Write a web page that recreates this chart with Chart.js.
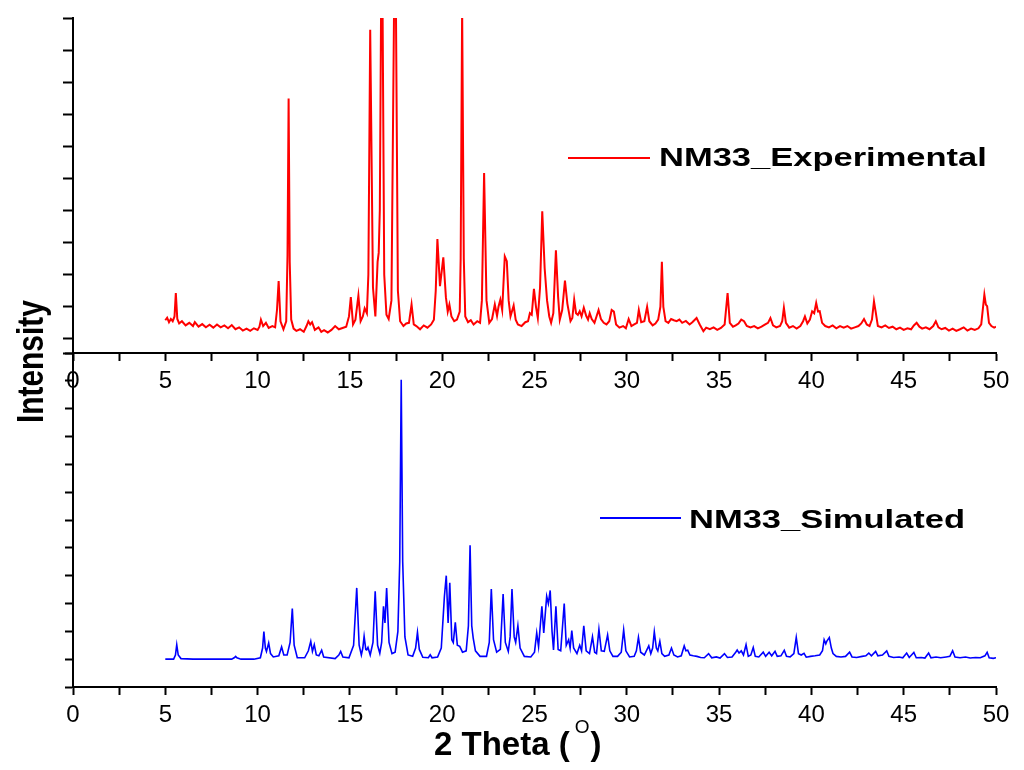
<!DOCTYPE html>
<html>
<head>
<meta charset="utf-8">
<title>NM33 PXRD</title>
<script src="https://cdn.jsdelivr.net/npm/chart.js@4.4.1/dist/chart.umd.min.js"></script>
<style>
  html, body { margin: 0; padding: 0; background: #fff; }
  #wrap { position: relative; width: 1024px; height: 770px; }
  #wrap canvas { position: absolute; left: 0; top: 0; }
</style>
</head>
<body>
<div id="wrap">
  <canvas id="expChart" width="1024" height="770"></canvas>
  <canvas id="simChart" width="1024" height="770"></canvas>
</div>
<script>
/* ---------- data: [2theta, intensity (arb. units)] ---------- */
const seriesNames = ['NM33_Experimental', 'NM33_Simulated'];
const thetaLabels = [0, 5, 10, 15, 20, 25, 30, 35, 40, 45, 50];

const experimental = [
  [5.00,0.58],[5.10,0.66],[5.20,0.52],[5.30,0.62],[5.40,0.55],[5.50,0.70],[5.57,1.43],[5.65,0.62],
  [5.75,0.48],[5.90,0.55],[6.10,0.42],[6.30,0.50],[6.50,0.40],[6.60,0.52],[6.80,0.38],[7.00,0.46],
  [7.20,0.36],[7.40,0.44],[7.60,0.35],[7.80,0.45],[8.00,0.36],[8.20,0.42],[8.40,0.33],[8.60,0.43],
  [8.80,0.30],[9.00,0.36],[9.20,0.26],[9.40,0.32],[9.60,0.25],[9.80,0.33],[10.00,0.28],[10.10,0.38],
  [10.18,0.60],[10.30,0.40],[10.45,0.50],[10.60,0.34],[10.80,0.40],[10.95,0.36],[11.05,0.90],[11.14,1.80],
  [11.24,0.55],[11.40,0.30],[11.55,0.55],[11.62,2.60],[11.68,7.49],[11.74,2.40],[11.82,0.60],[11.95,0.32],
  [12.10,0.25],[12.30,0.30],[12.50,0.22],[12.65,0.40],[12.75,0.55],[12.85,0.45],[12.95,0.52],[13.10,0.28],
  [13.30,0.36],[13.45,0.22],[13.60,0.27],[13.80,0.20],[14.00,0.28],[14.20,0.40],[14.40,0.30],[14.60,0.34],
  [14.80,0.38],[14.95,0.70],[15.05,1.30],[15.17,0.45],[15.30,0.60],[15.46,1.35],[15.58,0.55],[15.70,0.70],
  [15.80,0.95],[15.92,0.80],[16.00,2.00],[16.10,9.63],[16.25,1.60],[16.38,0.70],[16.50,2.40],[16.56,2.68],
  [16.62,4.00],[16.73,14.0],[16.86,2.00],[16.98,0.75],[17.10,0.62],[17.25,1.20],[17.45,14.0],[17.60,1.50],
  [17.72,0.55],[17.90,0.40],[18.05,0.48],[18.20,0.50],[18.34,1.07],[18.46,0.45],[18.60,0.40],[18.80,0.30],
  [19.00,0.42],[19.20,0.35],[19.40,0.45],[19.55,0.60],[19.65,1.50],[19.74,3.11],[19.88,1.64],[20.06,2.54],
  [20.20,1.30],[20.30,0.85],[20.39,1.07],[20.50,0.70],[20.65,0.55],[20.80,0.60],[20.95,0.85],[21.00,2.50],
  [21.08,10.3],[21.17,2.50],[21.25,0.70],[21.40,0.52],[21.55,0.58],[21.70,0.45],[21.90,0.55],[22.05,0.50],
  [22.15,1.20],[22.27,5.17],[22.40,1.20],[22.55,0.50],[22.70,0.62],[22.85,1.07],[22.97,0.72],[23.05,1.00],
  [23.15,1.22],[23.25,0.90],[23.39,2.57],[23.50,2.42],[23.60,1.20],[23.70,0.70],[23.87,1.04],[23.98,0.60],
  [24.10,0.45],[24.30,0.40],[24.50,0.52],[24.65,0.55],[24.75,0.80],[24.85,0.75],[24.97,1.56],[25.08,1.00],
  [25.18,0.65],[25.30,1.60],[25.42,3.98],[25.55,2.20],[25.68,1.20],[25.80,0.70],[25.90,0.50],[26.02,0.80],
  [26.16,2.76],[26.28,1.30],[26.37,0.60],[26.50,0.90],[26.65,1.82],[26.78,1.10],[26.95,0.55],[27.05,0.65],
  [27.15,1.22],[27.25,0.80],[27.35,0.75],[27.45,0.86],[27.55,0.70],[27.67,0.97],[27.80,0.72],[27.90,0.60],
  [27.99,0.80],[28.10,0.62],[28.25,0.50],[28.35,0.68],[28.47,0.90],[28.60,0.62],[28.75,0.50],[28.90,0.45],
  [29.05,0.55],[29.18,0.90],[29.30,0.85],[29.42,0.45],[29.60,0.35],[29.80,0.40],[29.95,0.33],[30.10,0.62],
  [30.25,0.40],[30.40,0.45],[30.55,0.50],[30.65,0.90],[30.78,0.52],[30.95,0.55],[31.10,1.00],[31.22,0.55],
  [31.40,0.42],[31.55,0.48],[31.70,0.60],[31.82,1.00],[31.90,2.40],[31.98,1.00],[32.10,0.55],[32.25,0.50],
  [32.40,0.62],[32.55,0.58],[32.70,0.55],[32.85,0.60],[33.00,0.50],[33.20,0.56],[33.40,0.45],[33.55,0.52],
  [33.78,0.65],[33.95,0.45],[34.15,0.24],[34.30,0.35],[34.50,0.30],[34.70,0.36],[34.90,0.28],[35.10,0.34],
  [35.30,0.45],[35.46,1.43],[35.58,0.50],[35.75,0.38],[35.90,0.42],[36.05,0.48],[36.20,0.60],[36.35,0.55],
  [36.50,0.40],[36.70,0.36],[36.90,0.40],[37.10,0.33],[37.30,0.38],[37.50,0.45],[37.65,0.50],[37.78,0.65],
  [37.92,0.42],[38.10,0.36],[38.30,0.40],[38.42,0.55],[38.51,0.97],[38.62,0.50],[38.80,0.35],[39.00,0.40],
  [39.20,0.32],[39.40,0.40],[39.55,0.55],[39.65,0.70],[39.78,0.48],[39.92,0.60],[40.04,0.86],[40.15,0.80],
  [40.26,1.12],[40.36,0.85],[40.45,0.86],[40.58,0.50],[40.75,0.40],[40.95,0.36],[41.15,0.42],[41.35,0.33],
  [41.55,0.40],[41.75,0.35],[41.95,0.40],[42.15,0.32],[42.35,0.36],[42.55,0.40],[42.70,0.48],[42.85,0.62],
  [43.00,0.45],[43.15,0.40],[43.28,0.60],[43.39,1.17],[43.48,0.85],[43.60,0.40],[43.80,0.36],[44.00,0.42],
  [44.20,0.34],[44.40,0.38],[44.60,0.30],[44.80,0.35],[45.00,0.28],[45.20,0.33],[45.40,0.30],[45.55,0.42],
  [45.70,0.50],[45.85,0.38],[46.00,0.32],[46.20,0.36],[46.40,0.30],[46.60,0.40],[46.74,0.55],[46.88,0.36],
  [47.05,0.30],[47.25,0.34],[47.45,0.26],[47.65,0.32],[47.85,0.25],[48.05,0.30],[48.25,0.36],[48.45,0.26],
  [48.65,0.32],[48.85,0.28],[49.05,0.33],[49.20,0.45],[49.30,1.00],[49.37,1.38],[49.45,1.07],[49.52,1.02],
  [49.62,0.50],[49.75,0.40],[49.90,0.35],[50.00,0.38]
];

const simulated = [
  [5.00,1.00],[5.45,1.00],[5.55,1.15],[5.62,1.52],[5.70,1.15],[5.85,1.02],[6.50,1.00],[8.60,1.00],
  [8.75,1.06],[8.81,1.10],[8.88,1.05],[9.10,1.00],[9.80,1.00],[10.15,1.05],[10.27,1.40],[10.34,1.99],
  [10.42,1.40],[10.48,1.28],[10.60,1.58],[10.70,1.20],[10.85,1.08],[11.15,1.12],[11.30,1.44],[11.42,1.15],
  [11.60,1.15],[11.76,1.60],[11.88,2.82],[11.98,1.50],[12.15,1.05],[12.55,1.05],[12.75,1.30],[12.88,1.64],
  [12.97,1.28],[13.07,1.52],[13.18,1.15],[13.32,1.12],[13.47,1.32],[13.58,1.08],[14.20,1.02],[14.40,1.15],
  [14.50,1.28],[14.62,1.08],[14.95,1.05],[15.20,1.50],[15.37,3.56],[15.50,1.50],[15.62,1.15],[15.70,1.40],
  [15.77,1.82],[15.86,1.35],[15.91,1.33],[15.98,1.42],[16.10,1.15],[16.25,1.60],[16.37,3.44],[16.50,1.50],
  [16.62,1.21],[16.72,1.60],[16.82,2.90],[16.90,2.30],[16.99,3.56],[17.12,1.60],[17.28,1.20],[17.45,1.25],
  [17.60,2.00],[17.70,4.50],[17.78,11.04],[17.86,4.50],[17.98,1.80],[18.15,1.15],[18.40,1.10],[18.56,1.40],
  [18.66,1.96],[18.76,1.35],[18.95,1.07],[19.25,1.05],[19.35,1.16],[19.45,1.05],[19.75,1.08],[19.95,1.40],
  [20.06,2.60],[20.12,3.26],[20.22,4.00],[20.32,2.30],[20.41,3.74],[20.52,1.70],[20.60,1.60],[20.71,2.32],
  [20.82,1.50],[20.95,1.46],[21.10,1.25],[21.30,1.30],[21.42,2.20],[21.51,5.09],[21.60,2.20],[21.68,1.76],
  [21.80,1.30],[22.05,1.10],[22.40,1.10],[22.55,1.60],[22.66,3.52],[22.78,1.70],[22.95,1.25],[23.15,1.35],
  [23.30,3.34],[23.42,1.60],[23.58,1.28],[23.68,1.80],[23.78,3.52],[23.90,1.80],[23.98,1.60],[24.10,2.20],
  [24.22,1.40],[24.45,1.10],[24.80,1.08],[25.00,1.25],[25.12,1.94],[25.22,1.45],[25.40,2.90],[25.50,1.94],
  [25.66,3.26],[25.75,3.00],[25.85,3.47],[25.95,2.00],[26.03,1.33],[26.16,2.90],[26.28,1.35],[26.42,1.30],
  [26.61,3.00],[26.72,1.50],[26.85,1.70],[26.93,1.40],[27.02,2.03],[27.12,1.40],[27.30,1.20],[27.45,1.50],
  [27.55,1.30],[27.67,2.20],[27.80,1.30],[27.98,1.20],[28.14,1.80],[28.26,1.25],[28.36,1.20],[28.49,2.07],
  [28.62,1.30],[28.78,1.28],[28.96,1.87],[29.08,1.30],[29.25,1.10],[29.50,1.10],[29.70,1.25],[29.83,2.05],
  [29.95,1.30],[30.15,1.08],[30.40,1.10],[30.52,1.30],[30.63,1.78],[30.75,1.25],[30.95,1.15],[31.19,1.48],
  [31.30,1.20],[31.40,1.40],[31.49,1.98],[31.60,1.40],[31.68,1.30],[31.79,1.64],[31.90,1.20],[32.05,1.10],
  [32.28,1.15],[32.42,1.40],[32.55,1.15],[32.75,1.08],[32.95,1.12],[33.11,1.48],[33.20,1.30],[33.30,1.32],
  [33.42,1.15],[33.60,1.12],[33.80,1.10],[34.00,1.06],[34.20,1.05],[34.43,1.20],[34.60,1.05],[34.85,1.08],
  [35.05,1.04],[35.29,1.20],[35.45,1.06],[35.70,1.08],[35.90,1.25],[35.98,1.33],[36.08,1.22],[36.20,1.30],
  [36.32,1.15],[36.46,1.52],[36.58,1.10],[36.72,1.15],[36.85,1.42],[36.96,1.10],[37.15,1.08],[37.39,1.25],
  [37.52,1.10],[37.71,1.25],[37.85,1.12],[38.03,1.28],[38.15,1.10],[38.35,1.12],[38.53,1.32],[38.65,1.10],
  [38.85,1.08],[39.05,1.20],[39.18,1.78],[39.30,1.20],[39.45,1.15],[39.60,1.21],[39.72,1.07],[39.95,1.10],
  [40.20,1.12],[40.45,1.15],[40.60,1.30],[40.69,1.70],[40.78,1.55],[40.84,1.65],[40.97,1.78],[41.08,1.40],
  [41.17,1.20],[41.35,1.10],[41.60,1.08],[41.85,1.10],[42.07,1.25],[42.20,1.08],[42.45,1.06],[42.75,1.10],
  [42.95,1.12],[43.11,1.22],[43.25,1.12],[43.48,1.28],[43.60,1.12],[43.85,1.15],[44.08,1.30],[44.20,1.10],
  [44.45,1.06],[44.75,1.08],[44.95,1.05],[45.16,1.22],[45.30,1.06],[45.55,1.24],[45.68,1.05],[45.95,1.06],
  [46.15,1.04],[46.35,1.22],[46.48,1.05],[46.75,1.08],[47.00,1.05],[47.30,1.08],[47.50,1.10],[47.65,1.30],
  [47.78,1.08],[48.05,1.05],[48.35,1.08],[48.60,1.04],[48.90,1.06],[49.15,1.05],[49.40,1.12],[49.52,1.25],
  [49.63,1.05],[49.85,1.03],[50.00,1.05]
];

/* ---------- helpers ---------- */
Chart.defaults.font.family = '"Liberation Sans", Arial, sans-serif';
Chart.defaults.color = '#000';

const toPoints = arr => arr.map(([x, y]) => ({ x, y }));

const axisBorder = { display: true, color: '#000', width: 2 };

function tickGrid(len){
  return { drawOnChartArea: false, drawTicks: true, tickLength: len, tickWidth: 2, tickColor: '#000' };
}

// shared 2-theta axis, labels every 5 deg, tick marks every 2.5
function thetaAxis(height){
  return {
    type: 'linear', min: 0, max: 50,
    ticks: {
      stepSize: 2.5, autoSkip: false, maxRotation: 0, padding: 6,
      color: '#000', font: { size: 24 },
      callback: v => thetaLabels.includes(v) ? String(v) : ''
    },
    grid: tickGrid(8),
    border: axisBorder,
    afterFit: s => { s.height = height; }
  };
}

// draws text squeezed/stretched along its own axes
function putText(ctx, text, x, y, font, sx, rot){
  ctx.save();
  ctx.translate(x, y);
  if (rot) ctx.rotate(rot);
  ctx.scale(sx, 1);
  ctx.font = font;
  ctx.fillStyle = '#000';
  ctx.textBaseline = 'alphabetic';
  ctx.textAlign = 'left';
  ctx.fillText(text, 0, 0);
  ctx.restore();
}

function legendPlugin(name, color, lineX0, lineX1, lineY, textX, baseY){
  return {
    id: 'inlineLegend',
    afterDraw(chart){
      const ctx = chart.ctx;
      ctx.save();
      ctx.strokeStyle = color;
      ctx.lineWidth = 2;
      ctx.beginPath();
      ctx.moveTo(lineX0, lineY);
      ctx.lineTo(lineX1, lineY);
      ctx.stroke();
      ctx.restore();
      putText(ctx, name, textX, baseY, 'bold 25px "Liberation Sans", Arial', 1.38);
    }
  };
}

const axisTitles = {
  id: 'axisTitles',
  afterDraw(chart){
    const ctx = chart.ctx;
    // vertical title shared by both panels
    putText(ctx, 'Intensity', 43, 423, 'bold 36px "Liberation Sans", Arial', 0.83, -Math.PI / 2);
    // 2 Theta (°) with raised O
    const big = 'bold 33px "Liberation Sans", Arial';
    const small = '19px "Liberation Sans", Arial';
    const x0 = 434, base = 755;
    ctx.save();
    ctx.font = big;
    const w1 = ctx.measureText('2 Theta (').width;
    ctx.font = small;
    const w2 = ctx.measureText('O').width;
    ctx.restore();
    putText(ctx, '2 Theta (', x0, base, big, 1);
    putText(ctx, 'O', x0 + w1 + 5, 733, small, 1);
    putText(ctx, ')', x0 + w1 + w2 + 6, base, big, 1);
  }
};

const baseOptions = {
  responsive: false,
  animation: false,
  events: [],
  plugins: { legend: { display: false }, tooltip: { enabled: false } }
};

/* ---------- top panel: experimental ---------- */
new Chart(document.getElementById('expChart'), {
  type: 'line',
  data: {
    datasets: [{
      label: seriesNames[0],
      data: toPoints(experimental),
      borderColor: '#ff0000',
      borderWidth: 2,
      pointRadius: 0,
      tension: 0
    }]
  },
  options: {
    ...baseOptions,
    layout: { padding: { top: 18, right: 28, bottom: 350, left: 0 } },
    scales: {
      x: thetaAxis(67),
      y: {
        type: 'linear', min: -0.44, max: 10,
        ticks: { stepSize: 1, callback: () => '' },
        grid: tickGrid(10),
        border: axisBorder,
        afterFit: s => { s.width = 73; }
      }
    }
  },
  plugins: [legendPlugin(seriesNames[0], '#ff0000', 568, 650, 158, 659, 166)]
});

/* ---------- bottom panel: simulated ---------- */
new Chart(document.getElementById('simChart'), {
  type: 'line',
  data: {
    datasets: [{
      label: seriesNames[1],
      data: toPoints(simulated),
      borderColor: '#0000ff',
      borderWidth: 1.6,
      pointRadius: 0,
      tension: 0
    }]
  },
  options: {
    ...baseOptions,
    layout: { padding: { top: 353, right: 28, bottom: 33, left: 0 } },
    scales: {
      x: thetaAxis(50),
      y: {
        type: 'linear', min: 0, max: 12,
        ticks: { stepSize: 1, callback: () => '' },
        grid: tickGrid(8),
        border: axisBorder,
        afterFit: s => { s.width = 73; }
      }
    }
  },
  plugins: [legendPlugin(seriesNames[1], '#0000ff', 600, 681, 518, 689, 528), axisTitles]
});
</script>
</body>
</html>
